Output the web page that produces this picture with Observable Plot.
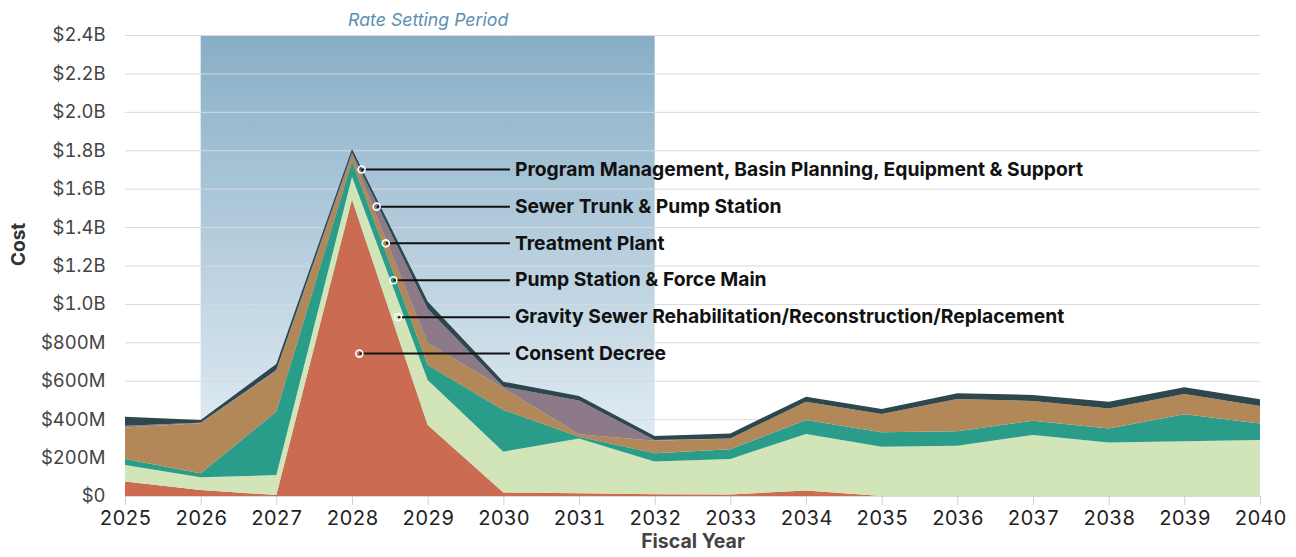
<!DOCTYPE html>
<html>
<head>
<meta charset="utf-8">
<script src="https://cdn.jsdelivr.net/npm/d3@7"></script>
<script src="https://cdn.jsdelivr.net/npm/@observablehq/plot@0.6"></script>
<style>
  html, body { margin: 0; padding: 0; background: #fff; }
  #chart svg { font-family: Inter, "Noto Sans", sans-serif; display: block; }
</style>
</head>
<body>
<div id="chart"></div>
<script>
// ---- Data (values in $ millions) ----
const years = [2025, 2026, 2027, 2028, 2029, 2030, 2031, 2032, 2033, 2034, 2035, 2036, 2037, 2038, 2039, 2040];

const seriesNames = [
  "Consent Decree",
  "Gravity Sewer Rehabilitation/Reconstruction/Replacement",
  "Pump Station & Force Main",
  "Treatment Plant",
  "Sewer Trunk & Pump Station",
  "Program Management, Basin Planning, Equipment & Support"
];

const consentDecree   = [75, 31, 5, 1542, 370, 18, 14, 9, 8, 28, 0, 0, 0, 0, 0, 0];
const gravitySewer    = [86, 66, 104, 121, 234, 213, 286, 170, 185, 295, 257, 262, 318, 278, 285, 292];
const pumpStation     = [32, 21, 330, 78, 78, 217, 9, 43, 50, 73, 75, 75, 74, 74, 140, 86];
const treatmentPlant  = [163, 261, 212, 35, 115, 114, 12, 66, 57, 95, 95, 168, 103, 104, 106, 91];
const sewerTrunk      = [10, 2, 5, 12, 178, 7, 176, 4, 0, 0, 0, 0, 0, 0, 0, 0];
const programMgmt     = [47, 15, 31, 19, 37, 26, 24, 21, 26, 26, 26, 30, 31, 35, 35, 35];

const seriesColors = ["#cb6b51", "#d2e5b8", "#2a9d8a", "#b38859", "#8d7a88", "#2e474d"];

const yTicks = [0, 200, 400, 600, 800, 1000, 1200, 1400, 1600, 1800, 2000, 2200, 2400];

// Rate setting period band
const rateStart = 2026;
const rateEnd = 2032;
const rateLabel = "Rate Setting Period";

// Annotation anchor points (data space) for the labels, top to bottom
const annLabels = [
  "Program Management, Basin Planning, Equipment & Support",
  "Sewer Trunk & Pump Station",
  "Treatment Plant",
  "Pump Station & Force Main",
  "Gravity Sewer Rehabilitation/Reconstruction/Replacement",
  "Consent Decree"
];
const annX = [2028.12, 2028.32, 2028.44, 2028.54, 2028.60, 2028.09];
const annY = [1702, 1509, 1318, 1126, 933, 744];
const annLabelX = 2030.08;

// ---- Build tables ----
const seriesValues = [consentDecree, gravitySewer, pumpStation, treatmentPlant, sewerTrunk, programMgmt];
const table = [];
seriesNames.forEach((s, i) => {
  years.forEach((y, j) => table.push({year: y, series: s, value: seriesValues[i][j]}));
});
const ann = annLabels.map((l, i) => ({label: l, x: annX[i], y: annY[i]}));
const rate = [{start: rateStart, end: rateEnd, label: rateLabel}];

const fmt = v => v === 0 ? "$0" : v < 1000 ? `$${v}M` : `$${(v / 1000).toFixed(1)}B`;

const defs = () => {
  const g = d3.create("svg:defs");
  const lg = g.append("linearGradient").attr("id", "rateGrad").attr("x1", 0).attr("y1", 0).attr("x2", 0).attr("y2", 1);
  lg.append("stop").attr("offset", "0%").attr("stop-color", "#87aec6");
  lg.append("stop").attr("offset", "100%").attr("stop-color", "#edf4fa");
  return g.node();
};

const chart = Plot.plot({
  width: 1296,
  height: 557,
  marginLeft: 125,
  marginRight: 36,
  marginTop: 35,
  marginBottom: 61,
  x: {domain: [2025, 2040], label: null},
  y: {domain: [0, 2400], label: null},
  color: {domain: seriesNames, range: seriesColors},
  marks: [
    defs,
    Plot.rect(rate, {x1: "start", x2: "end", y1: () => 0, y2: () => 2400, fill: "url(#rateGrad)"}),
    Plot.text(rate, {x: d => (d.start + d.end) / 2, y: () => 2400, text: "label", dy: -15,
      fontStyle: "italic", fill: "#5a8fb2", fontSize: 17.7}),
    Plot.gridY({ticks: yTicks, stroke: "#d9d9d9", strokeOpacity: 1, strokeWidth: 1}),
    Plot.areaY(table, {x: "year", y: "value", z: "series", fill: "series", order: seriesNames}),
    Plot.axisY({ticks: yTicks, tickFormat: fmt, tickSize: 0, tickPadding: 20, fontSize: 18.5, fill: "#444"}),
    Plot.axisX({ticks: years, tickFormat: d => String(d), tickSize: 9, tickPadding: 5, fontSize: 20,
      stroke: "#d0d0d0", fill: "#222"}),
    Plot.text(["Cost"], {frameAnchor: "left", dx: -107, rotate: -90, fontWeight: "bold", fontSize: 19, fill: "#333"}),
    Plot.text(["Fiscal Year"], {frameAnchor: "bottom", dy: 51, fontWeight: "bold", fontSize: 19.5, fill: "#444"}),
    Plot.link(ann, {x1: "x", x2: () => annLabelX, y1: "y", y2: "y", stroke: "#111", strokeWidth: 2}),
    Plot.dot(ann, {x: "x", y: "y", r: 3.5, stroke: "white", strokeWidth: 1.6, fill: "none"}),
    Plot.text(ann, {x: () => annLabelX, y: "y", text: "label", dx: 5, textAnchor: "start",
      fontWeight: "bold", fontSize: 19.3, fill: "#111"})
  ]
});
document.getElementById("chart").appendChild(chart);
</script>
</body>
</html>
